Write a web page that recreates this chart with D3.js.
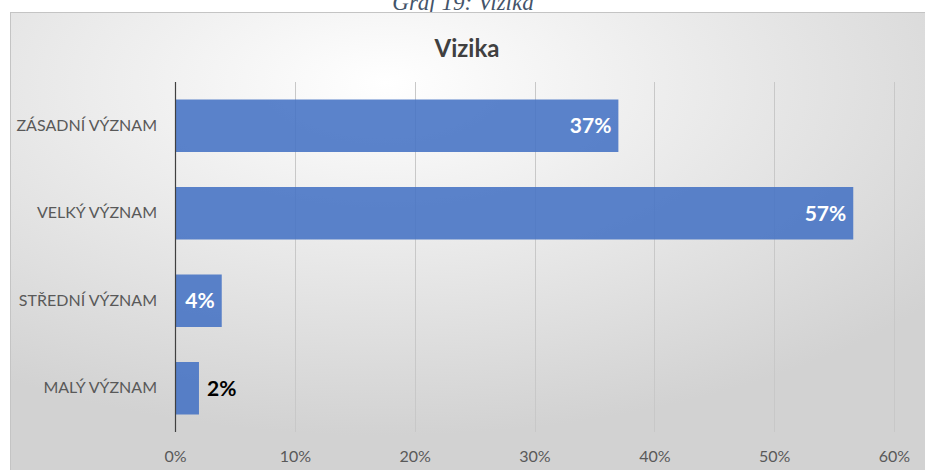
<!DOCTYPE html>
<html>
<head>
<meta charset="utf-8">
<script src="https://cdn.jsdelivr.net/npm/d3@7"></script>
<style>
  body { margin: 0; background: #ffffff; }
  svg { display: block; }
</style>
</head>
<body>
<svg id="chart"></svg>
<script>
// Data for the chart
const kategorie = ["ZÁSADNÍ VÝZNAM", "VELKÝ VÝZNAM", "STŘEDNÍ VÝZNAM", "MALÝ VÝZNAM"];
const hodnoty = [0.37, 0.566, 0.039, 0.02];
const tickHodnoty = [0, 0.1, 0.2, 0.3, 0.4, 0.5, 0.6];
const nadpis = "Vizika";
const popisek = "Graf 19: Vizika";

const width = 925;
const height = 470;
const font = "Lato, 'Open Sans', sans-serif";

const svg = d3.select("#chart")
    .attr("width", width)
    .attr("height", height);

// Radial background like Excel
const defs = svg.append("defs");
const grad = defs.append("radialGradient")
    .attr("id", "bg")
    .attr("cx", "40%").attr("cy", "15%")
    .attr("r", "75%");
grad.append("stop").attr("offset", "0%").attr("stop-color", "#ffffff");
grad.append("stop").attr("offset", "100%").attr("stop-color", "#d2d2d2");

// Caption, cut off at top as in the source
svg.append("text")
    .attr("x", 463)
    .attr("y", 10)
    .attr("text-anchor", "middle")
    .attr("font-family", "'Liberation Serif', serif")
    .attr("font-style", "italic")
    .attr("font-size", "23px")
    .attr("fill", "#44546a")
    .text(popisek);

svg.append("rect")
    .attr("x", 10.5).attr("y", 12.5)
    .attr("width", width + 10).attr("height", height)
    .attr("fill", "url(#bg)")
    .attr("stroke", "#c4c4c4");

svg.append("text")
    .attr("x", 467)
    .attr("y", 57)
    .attr("text-anchor", "middle")
    .attr("font-family", font)
    .attr("font-weight", "bold")
    .attr("font-size", "24px")
    .attr("fill", "#404040")
    .text(nadpis);

// Scales
const plotLeft = 175, plotRight = 894, plotTop = 82, plotBottom = 432;
const x = d3.scaleLinear().domain([0, 0.6]).range([plotLeft, plotRight]);
const y = d3.scaleBand().domain(kategorie).range([plotTop, plotBottom]).paddingInner(0.4).paddingOuter(0.2);

// Gridlines
svg.append("g")
    .selectAll("line")
    .data(tickHodnoty.slice(1))
    .join("line")
    .attr("x1", d => Math.round(x(d)) + 0.5)
    .attr("x2", d => Math.round(x(d)) + 0.5)
    .attr("y1", plotTop).attr("y2", plotBottom)
    .attr("stroke", "#c8c8c8")
    .attr("stroke-width", 1);

// Bars
svg.append("g")
    .selectAll("rect")
    .data(hodnoty)
    .join("rect")
    .attr("x", x(0))
    .attr("y", (d, i) => y(kategorie[i]))
    .attr("width", d => x(d) - x(0))
    .attr("height", y.bandwidth())
    .attr("fill", "#4472c4")
    .attr("fill-opacity", 0.88);

// Axis line
svg.append("line")
    .attr("x1", plotLeft + 0.5).attr("x2", plotLeft + 0.5)
    .attr("y1", plotTop).attr("y2", plotBottom)
    .attr("stroke", "#404040")
    .attr("stroke-width", 1.2);

// Tick labels (x)
const xAxis = d3.axisBottom(x).tickValues(tickHodnoty).tickFormat(d3.format(".0%")).tickSize(0).tickPadding(0);
const gx = svg.append("g").attr("transform", `translate(0, 451)`).call(xAxis);
gx.select(".domain").remove();
gx.selectAll("text")
    .attr("font-family", font)
    .attr("font-size", "16px")
    .attr("fill", "#595959");

// Category labels
const yAxis = d3.axisLeft(y).tickSize(0).tickPadding(0);
const gy = svg.append("g").attr("transform", `translate(157, 0)`).call(yAxis);
gy.select(".domain").remove();
gy.selectAll("text")
    .attr("font-family", font)
    .attr("font-size", "16px")
    .attr("fill", "#595959");

// Data labels
const fmt = d3.format(".0%");
svg.append("g")
    .selectAll("text")
    .data(hodnoty)
    .join("text")
    .attr("x", d => d < 0.03 ? x(d) + 8 : x(d) - 7)
    .attr("y", (d, i) => y(kategorie[i]) + y.bandwidth() / 2)
    .attr("dy", "0.35em")
    .attr("text-anchor", d => d < 0.03 ? "start" : "end")
    .attr("font-family", font)
    .attr("font-weight", "bold")
    .attr("font-size", "21px")
    .attr("fill", d => d < 0.03 ? "#000000" : "#ffffff")
    .text(d => fmt(d));
</script>
</body>
</html>
